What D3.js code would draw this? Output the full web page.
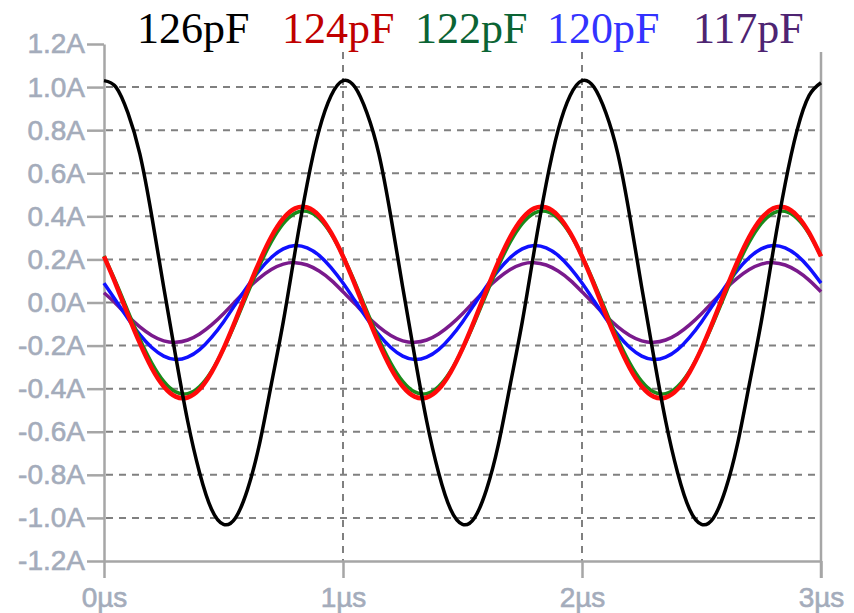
<!DOCTYPE html>
<html><head><meta charset="utf-8">
<script src="https://cdn.jsdelivr.net/npm/d3@7"></script>
<style>body{margin:0;background:#fff;}svg{display:block;}</style>
</head><body>
<svg id="chart" width="854" height="613"></svg>
<script>
// ---- data ----
const timeUs = [0,0.05,0.1,0.15,0.2,0.25,0.3,0.35,0.4,0.45,0.5,0.55,0.6,0.65,0.7,0.75,0.8,0.85,0.9,0.95,
  1,1.05,1.1,1.15,1.2,1.25,1.3,1.35,1.4,1.45,1.5,1.55,1.6,1.65,1.7,1.75,1.8,1.85,1.9,1.95,
  2,2.05,2.1,2.15,2.2,2.25,2.3,2.35,2.4,2.45,2.5,2.55,2.6,2.65,2.7,2.75,2.8,2.85,2.9,2.95,3];

const i126pF = [1.03,1.00,0.88,0.69,0.40,0.07,-0.25,-0.55,-0.79,-0.96,-1.03,-1.00,-0.87,-0.66,-0.38,-0.09,0.24,0.55,0.80,0.96,
  1.03,1.00,0.88,0.69,0.40,0.07,-0.25,-0.55,-0.79,-0.96,-1.03,-1.00,-0.87,-0.66,-0.38,-0.09,0.24,0.55,0.80,0.96,
  1.03,1.00,0.88,0.69,0.40,0.07,-0.25,-0.55,-0.79,-0.96,-1.03,-1.00,-0.87,-0.66,-0.38,-0.09,0.24,0.55,0.80,0.96,1.02];

const i124pF = [0.214,0.083,-0.056,-0.189,-0.305,-0.390,-0.437,-0.441,-0.403,-0.324,-0.214,-0.083,0.056,0.189,0.305,0.390,0.437,0.441,0.403,0.324,
  0.214,0.083,-0.056,-0.189,-0.305,-0.390,-0.437,-0.441,-0.403,-0.324,-0.214,-0.083,0.056,0.189,0.305,0.390,0.437,0.441,0.403,0.324,
  0.214,0.083,-0.056,-0.189,-0.305,-0.390,-0.437,-0.441,-0.403,-0.324,-0.214,-0.083,0.056,0.189,0.305,0.390,0.437,0.441,0.403,0.324,0.214];

const i122pF = [0.216,0.093,-0.040,-0.169,-0.281,-0.366,-0.415,-0.423,-0.390,-0.319,-0.216,-0.093,0.040,0.169,0.281,0.366,0.415,0.423,0.390,0.319,
  0.216,0.093,-0.040,-0.169,-0.281,-0.366,-0.415,-0.423,-0.390,-0.319,-0.216,-0.093,0.040,0.169,0.281,0.366,0.415,0.423,0.390,0.319,
  0.216,0.093,-0.040,-0.169,-0.281,-0.366,-0.415,-0.423,-0.390,-0.319,-0.216,-0.093,0.040,0.169,0.281,0.366,0.415,0.423,0.390,0.319,0.216];

const i120pF = [0.090,0.008,-0.074,-0.149,-0.209,-0.249,-0.265,-0.254,-0.219,-0.162,-0.090,-0.008,0.074,0.149,0.209,0.249,0.265,0.254,0.219,0.162,
  0.090,0.008,-0.074,-0.149,-0.209,-0.249,-0.265,-0.254,-0.219,-0.162,-0.090,-0.008,0.074,0.149,0.209,0.249,0.265,0.254,0.219,0.162,
  0.090,0.008,-0.074,-0.149,-0.209,-0.249,-0.265,-0.254,-0.219,-0.162,-0.090,-0.008,0.074,0.149,0.209,0.249,0.265,0.254,0.219,0.162,0.090];

const i117pF = [0.045,-0.006,-0.063,-0.113,-0.153,-0.178,-0.185,-0.174,-0.146,-0.104,-0.052,0.006,0.063,0.113,0.153,0.178,0.185,0.174,0.146,0.104,
  0.050,-0.006,-0.063,-0.113,-0.153,-0.178,-0.185,-0.174,-0.146,-0.104,-0.052,0.006,0.063,0.113,0.153,0.178,0.185,0.174,0.146,0.104,
  0.050,-0.006,-0.063,-0.113,-0.153,-0.178,-0.185,-0.174,-0.146,-0.104,-0.052,0.006,0.063,0.113,0.153,0.178,0.185,0.174,0.146,0.104,0.050];

const seriesNames = ["126pF","124pF","122pF","120pF","117pF"];
const yTickValues = [1.2,1.0,0.8,0.6,0.4,0.2,0.0,-0.2,-0.4,-0.6,-0.8,-1.0,-1.2];
const yTickLabels = ["1.2A","1.0A","0.8A","0.6A","0.4A","0.2A","0.0A","-0.2A","-0.4A","-0.6A","-0.8A","-1.0A","-1.2A"];
const xTickValues = [0,1,2,3];
const xTickLabels = ["0µs","1µs","2µs","3µs"];

// ---- styles / layout ----
const lineColors = {"126pF":"#000000","124pF":"#ff0a0a","122pF":"#1a8a1a","120pF":"#1010ff","117pF":"#7a1a8c"};
const textColors = {"126pF":"#000000","124pF":"#c00000","122pF":"#0b6434","120pF":"#3333ff","117pF":"#4e2472"};
const legendX = [137, 282, 415, 547, 693];
const axisColor = "#a6a6a6";
const labelColor = "#a4acbb";

const svg = d3.select("#chart");
const x = d3.scaleLinear().domain([0,3]).range([104,821]);
const y = d3.scaleLinear().domain([-1.2,1.2]).range([561,44]);

// grid
const grid = svg.append("g").attr("stroke","#808080").attr("stroke-width",2).attr("stroke-dasharray","7,6");
grid.selectAll("line.h").data(yTickValues.filter(v => Math.abs(v) < 1.1)).join("line")
  .attr("x1", x(0)+2).attr("x2", x(3)).attr("y1", d => y(d)).attr("y2", d => y(d));
grid.selectAll("line.v").data([1,2]).join("line")
  .attr("x1", d => x(d)).attr("x2", d => x(d)).attr("y1", y(1.2)+8).attr("y2", y(-1.2));

// right border
svg.append("line").attr("x1", x(3)).attr("x2", x(3)).attr("y1", y(1.2)+8).attr("y2", y(-1.2)+17)
  .attr("stroke", axisColor).attr("stroke-width", 2.5);

// axes
const yAxis = svg.append("g").attr("transform", `translate(${x(0)},0)`)
  .call(d3.axisLeft(y).tickValues(yTickValues).tickFormat((d,i) => yTickLabels[i]).tickSize(17).tickSizeOuter(0).tickPadding(2));
const xAxis = svg.append("g").attr("transform", `translate(0,${y(-1.2)})`)
  .call(d3.axisBottom(x).tickValues(xTickValues).tickFormat((d,i) => xTickLabels[i]).tickSize(17).tickSizeOuter(0).tickPadding(9));
[yAxis, xAxis].forEach(g => {
  g.attr("font-size", null).attr("font-family", null);
  g.selectAll("path.domain, .tick line").attr("stroke", axisColor).attr("stroke-width", 2.5);
  g.selectAll("text").attr("fill", labelColor)
    .attr("stroke", labelColor).attr("stroke-width", 0.6)
    .style("font-family", "'Liberation Sans', Arial, sans-serif")
    .style("font-size", "28px");
});

// series
const seriesData = [
  {name:"117pF", values:i117pF, w:3.5},
  {name:"120pF", values:i120pF, w:3.5},
  {name:"122pF", values:i122pF, w:3.5},
  {name:"124pF", values:i124pF, w:4.5},
  {name:"126pF", values:i126pF, w:3.5}
];
const line = d3.line().x(d => x(d[0])).y(d => y(d[1])).curve(d3.curveNatural);
svg.append("g").selectAll("path").data(seriesData).join("path")
  .attr("d", s => line(timeUs.map((t,i) => [t, s.values[i]])))
  .attr("fill","none").attr("stroke", s => lineColors[s.name]).attr("stroke-width", s => s.w)
  .attr("stroke-linejoin","round");

// legend
svg.append("g").selectAll("text").data(seriesNames).join("text")
  .attr("x", (d,i) => legendX[i]).attr("y", 43)
  .attr("font-family", "'Liberation Serif', 'Times New Roman', serif").attr("font-size", 44)
  .attr("fill", d => textColors[d]).text(d => d);
</script>
</body></html>
